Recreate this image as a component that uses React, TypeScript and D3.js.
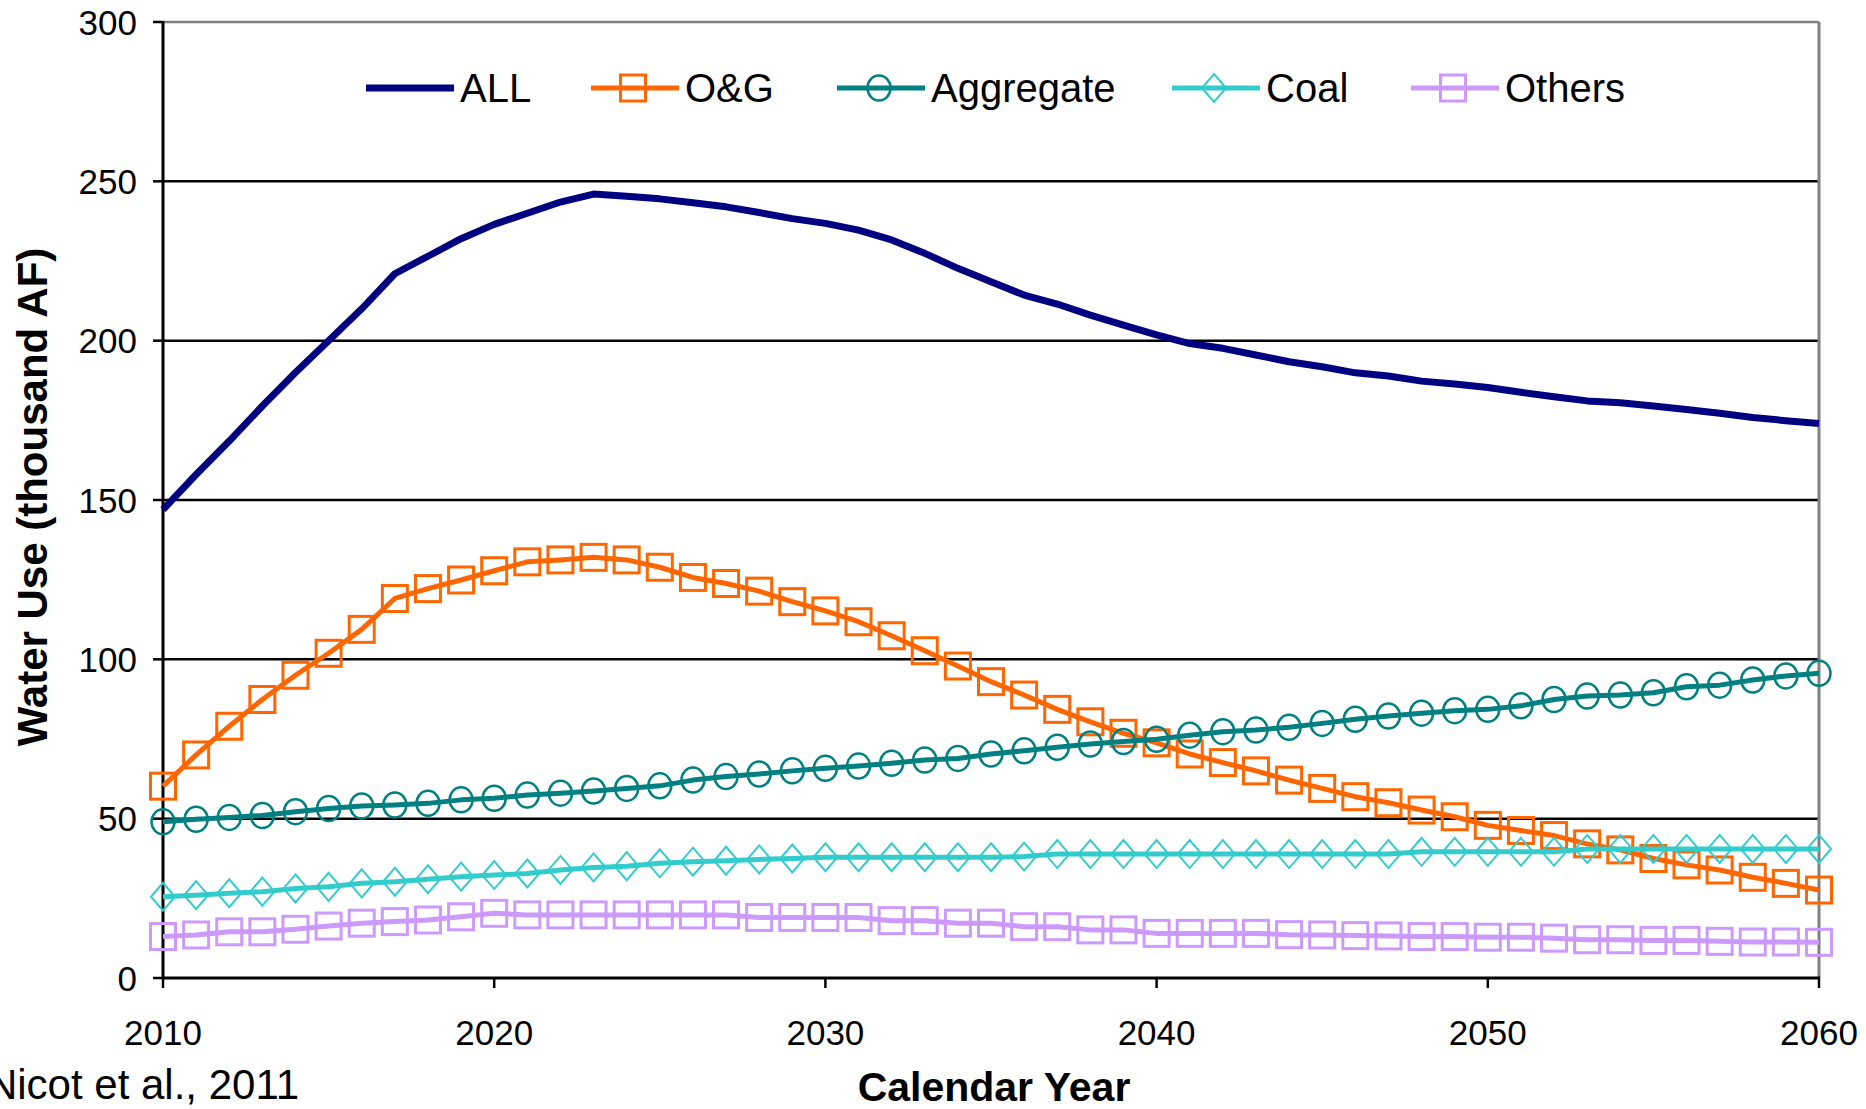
import React from 'react';
import * as d3 from 'd3';

const years = [
  2010, 2011, 2012, 2013, 2014, 2015, 2016, 2017, 2018, 2019,
  2020, 2021, 2022, 2023, 2024, 2025, 2026, 2027, 2028, 2029,
  2030, 2031, 2032, 2033, 2034, 2035, 2036, 2037, 2038, 2039,
  2040, 2041, 2042, 2043, 2044, 2045, 2046, 2047, 2048, 2049,
  2050, 2051, 2052, 2053, 2054, 2055, 2056, 2057, 2058, 2059, 2060,
];

const allUse = [
  147, 158, 168.5, 179.5, 190, 200, 210, 221, 226.5, 232,
  236.5, 240, 243.5, 246, 245.3, 244.5, 243.3, 242, 240.2, 238.3,
  236.8, 234.7, 231.6, 227.4, 222.7, 218.5, 214.3, 211.5, 208, 204.9,
  201.8, 199.1, 197.6, 195.5, 193.4, 191.8, 189.9, 188.9, 187.3, 186.4,
  185.3, 183.8, 182.4, 181.1, 180.5, 179.5, 178.4, 177.2, 175.9, 174.9, 174,
];

const oilGas = [
  60.2, 70, 79, 87.4, 95, 101.9, 109.4, 119.1, 122.2, 124.9,
  127.8, 130.6, 131.2, 132, 131.2, 128.9, 125.7, 123.8, 121.4, 118.1,
  115.2, 111.8, 107.4, 102.7, 97.9, 93, 88.8, 84.3, 80.4, 76.8,
  73.8, 70.3, 67.6, 65, 62.1, 59.5, 56.9, 55, 52.7, 50.6,
  47.9, 46.3, 44.7, 42.1, 40.2, 37.5, 35.5, 33.9, 31.6, 29.7, 27.6,
];

const aggregate = [
  49, 49.8, 50.4, 51, 52.2, 53.2, 54, 54.3, 54.8, 55.9,
  56.4, 57.4, 58, 58.7, 59.5, 60.3, 62.1, 63.2, 64, 65,
  65.8, 66.5, 67.4, 68.4, 68.9, 70.3, 71.3, 72.4, 73.4, 74.2,
  74.9, 76.2, 77.3, 77.8, 78.7, 79.9, 81.2, 82.2, 83.1, 83.9,
  84.3, 85.4, 87.4, 88.5, 88.8, 89.5, 91.4, 91.9, 93.5, 94.8, 95.6,
];

const coal = [
  25.5, 26, 26.6, 27.1, 28.1, 28.6, 29.7, 30.2, 31, 31.8,
  32.3, 32.8, 33.9, 34.7, 35.1, 36, 36.5, 36.8, 37.2, 37.5,
  37.9, 37.9, 37.9, 37.9, 37.9, 37.9, 38.1, 38.9, 38.9, 38.9,
  38.9, 38.9, 38.9, 38.9, 38.9, 38.9, 38.9, 38.9, 39.6, 39.6,
  39.6, 39.6, 39.6, 40.5, 40.5, 40.5, 40.5, 40.5, 40.5, 40.5, 40.5,
];

const others = [
  13, 13.5, 14.5, 14.5, 15.3, 16.3, 17.2, 17.7, 18.2, 19.2,
  20.3, 19.8, 19.8, 19.8, 19.8, 19.8, 19.8, 19.8, 19, 19,
  19, 19, 18, 18, 17.2, 17.2, 16.1, 16.1, 15.1, 15.1,
  14, 14, 14, 14, 13.6, 13.5, 13.3, 13.2, 13, 13,
  12.8, 12.8, 12.5, 12, 12, 11.8, 11.8, 11.5, 11.3, 11.3, 11.2,
];

const seriesNames = ['ALL', 'O&G', 'Aggregate', 'Coal', 'Others'];
const seriesColors = ['#000080', '#FF6600', '#008080', '#33CCCC', '#CC99FF'];
const seriesMarkers = ['none', 'square', 'circle', 'diamond', 'square'];
const seriesValues = [allUse, oilGas, aggregate, coal, others];

const yTicks = [0, 50, 100, 150, 200, 250, 300];
const xTicks = [2010, 2020, 2030, 2040, 2050, 2060];

const FONT = '"Liberation Sans", Arial, Helvetica, sans-serif';

function Marker({ type, cx, cy, color }: { type: string; cx: number; cy: number; color: string }) {
  if (type === 'square') {
    return <rect x={cx - 12.5} y={cy - 13} width={25} height={26} fill="none" stroke={color} strokeWidth={3} />;
  }
  if (type === 'circle') {
    return <ellipse cx={cx} cy={cy} rx={11.5} ry={12.5} fill="none" stroke={color} strokeWidth={2.5} />;
  }
  if (type === 'diamond') {
    const p = `M${cx},${cy - 14}L${cx + 12},${cy}L${cx},${cy + 14}L${cx - 12},${cy}Z`;
    return <path d={p} fill="none" stroke={color} strokeWidth={2} />;
  }
  return null;
}

export default function App() {
  const W = 1866;
  const H = 1109;
  const left = 163;
  const right = 1819;
  const top = 22;
  const bottom = 978;

  const x = d3.scaleLinear().domain([2010, 2060]).range([left, right]);
  const y = d3.scaleLinear().domain([0, 300]).range([bottom, top]);

  const legendStarts = [366, 591, 837, 1172, 1411];
  const legendY = 88;

  return (
    <svg
      width={W}
      height={H}
      style={{ position: 'absolute', left: 0, top: 0, background: '#fff', display: 'block' }}
      fontFamily={FONT}
    >
      <rect x={0} y={0} width={W} height={H} fill="#fff" />
      {/* gridlines */}
      {yTicks.filter((t) => t > 0 && t < 300).map((t) => (
        <line key={'g' + t} x1={left} x2={right} y1={y(t)} y2={y(t)} stroke="#000" strokeWidth={2.5} />
      ))}
      {/* frame */}
      <line x1={left} x2={right} y1={y(300)} y2={y(300)} stroke="#808080" strokeWidth={2.5} />
      <line x1={right} x2={right} y1={y(300)} y2={bottom} stroke="#808080" strokeWidth={3} />
      <line x1={left} x2={left} y1={y(300) - 1} y2={bottom} stroke="#000" strokeWidth={3} />
      <line x1={left - 1} x2={right + 1} y1={bottom} y2={bottom} stroke="#000" strokeWidth={3} />
      {/* y ticks */}
      {yTicks.map((t) => (
        <g key={'yt' + t}>
          <line x1={left - 10} x2={left} y1={y(t)} y2={y(t)} stroke="#000" strokeWidth={2.5} />
          <text x={137} y={y(t)} dy="0.36em" textAnchor="end" fontSize={35} fill="#000">
            {t}
          </text>
        </g>
      ))}
      {/* x ticks */}
      {xTicks.map((t) => (
        <g key={'xt' + t}>
          <line x1={x(t)} x2={x(t)} y1={bottom} y2={bottom + 10} stroke="#000" strokeWidth={2.5} />
          <text x={x(t)} y={1045} textAnchor="middle" fontSize={35} fill="#000">
            {t}
          </text>
        </g>
      ))}
      {/* series */}
      {seriesValues.map((vals, si) => {
        const line = d3
          .line<number>()
          .x((_, i) => x(years[i]))
          .y((v) => y(v));
        return (
          <g key={'s' + si}>
            <path
              d={line(vals) || ''}
              fill="none"
              stroke={seriesColors[si]}
              strokeWidth={si === 0 ? 7 : 5}
              strokeLinejoin="round"
            />
            {vals.map((v, i) => (
              <Marker key={i} type={seriesMarkers[si]} cx={x(years[i])} cy={y(v)} color={seriesColors[si]} />
            ))}
          </g>
        );
      })}
      {/* legend */}
      {seriesNames.map((name, si) => {
        const sx = legendStarts[si];
        return (
          <g key={'l' + si}>
            <line
              x1={sx}
              x2={sx + 88}
              y1={legendY}
              y2={legendY}
              stroke={seriesColors[si]}
              strokeWidth={si === 0 ? 7 : 5}
            />
            <Marker type={seriesMarkers[si]} cx={sx + 42} cy={legendY} color={seriesColors[si]} />
            <text x={sx + 94} y={legendY + 14} fontSize={40} fill="#000">
              {name}
            </text>
          </g>
        );
      })}
      {/* axis titles */}
      <text
        transform={`translate(47, 497) rotate(-90)`}
        textAnchor="middle"
        fontSize={42}
        fontWeight="bold"
        fill="#000"
      >
        Water Use (thousand AF)
      </text>
      <text x={(left + right) / 2 + 3} y={1101} textAnchor="middle" fontSize={41} fontWeight="bold" fill="#000">
        Calendar Year
      </text>
      <text x={299} y={1099} textAnchor="end" fontSize={42} fill="#000">
        Nicot et al., 2011
      </text>
    </svg>
  );
}
